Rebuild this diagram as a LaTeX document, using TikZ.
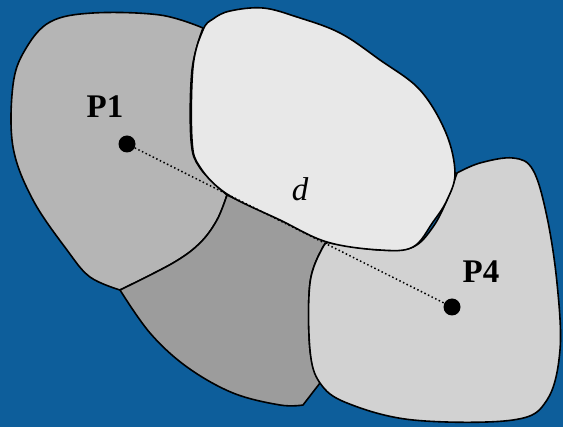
\documentclass[tikz,border=0pt]{standalone}
\usepackage{fontspec}
\setmainfont{Liberation Serif}
\definecolor{bgblue}{RGB}{13,94,155}
\definecolor{regA}{RGB}{181,181,181}
\definecolor{regB}{RGB}{232,232,232}
\definecolor{regC}{RGB}{156,156,156}
\definecolor{regD}{RGB}{210,210,210}
\tikzset{
  region/.style={draw=black, line width=1.6pt, line join=round},
  dotmark/.style={circle, fill=black, inner sep=0pt, minimum size=17pt},
  ptlabel/.style={font=\fontsize{33}{38}\selectfont\bfseries, inner sep=0pt},
  dlabel/.style={font=\fontsize{33}{38}\selectfont\itshape, inner sep=0pt},
  link/.style={line width=1.5pt, dash pattern=on 1.5pt off 2.5pt}
}
\begin{document}
\begin{tikzpicture}[x=1pt,y=-1pt]
\fill[bgblue] (0,0) rectangle (563,427);
\useasboundingbox (0,0) rectangle (563,427);
% left region (P1)
\draw[region, fill=regA]
  plot[smooth, tension=0.6] coordinates {(227,195) (200,168) (191,140) (192,70) (203,28)}
  -- plot[smooth, tension=0.6] coordinates {(203,28) (160,15) (93,13) (50,22) (25,50) (13,85) (13,147) (33,200) (67,250) (90,277) (120,290)}
  -- plot[smooth, tension=0.6] coordinates {(120,290) (173,263) (200,243) (217,220) (227,195)}
  -- cycle;
% dark region
\draw[region, fill=regC]
  plot[smooth, tension=0.6] coordinates {(120,290) (150,333) (187,367) (233,393) (280,405) (303,405)}
  -- (320,383)
  -- plot[smooth, tension=0.6] coordinates {(320,383) (310,350) (310,283) (323,247) (330,243)}
  -- (227,195)
  -- plot[smooth, tension=0.6] coordinates {(227,195) (217,220) (200,243) (173,263) (120,290)}
  -- cycle;
% right region (P4)
\draw[region, fill=regD]
  plot[smooth, tension=0.6] coordinates {(457,173) (480,163) (513,158) (533,170) (547,217) (557,283) (560,350) (547,400) (513,420) (413,420) (347,403) (320,383) (310,350) (310,283) (323,247) (330,243)}
  -- plot[smooth, tension=0.6] coordinates {(330,243) (380,250) (413,247) (433,227) (447,200) (457,173)}
  -- cycle;
% top white region
\draw[region, fill=regB]
  plot[smooth cycle, tension=0.6] coordinates {(230,11) (263,8) (297,17) (340,33) (380,60) (420,90) (446,133) (455,173) (447,200) (433,222) (413,247) (380,250) (327,242) (280,220) (227,194) (200,167) (192,140) (193,67) (203,30) (213,19)};
% points and labels
\node[dotmark] (p1) at (127,144) {};
\node[dotmark] (p4) at (452,307) {};
\draw[link] (p1) -- (p4);
\node[ptlabel] (l1) at (105,107) {P1};
\node[ptlabel] (l4) at (481,272) {P4};
\node[dlabel] (ld) at (300,189) {d};
\end{tikzpicture}
\end{document}
